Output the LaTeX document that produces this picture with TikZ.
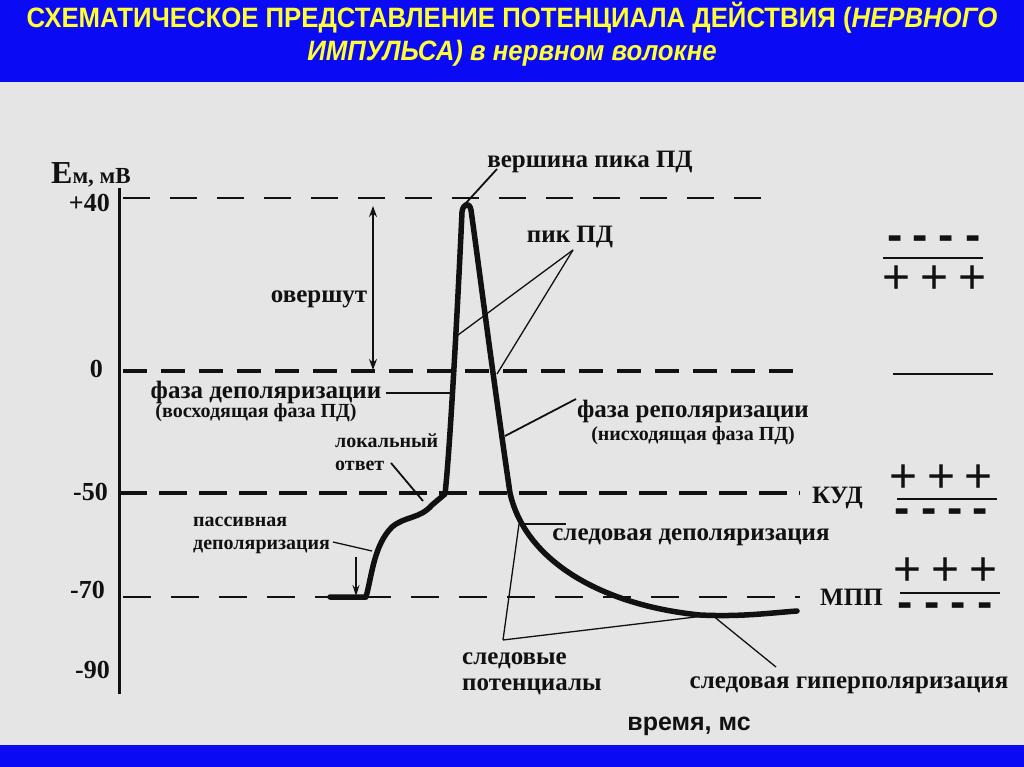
\documentclass[tikz,border=0pt]{standalone}
\usepackage{fontspec}
\setmainfont{Liberation Serif}
\newfontfamily\titlefont[FakeStretch=0.92]{Liberation Sans}
\newfontfamily\sansfont{Liberation Sans}
\usetikzlibrary{arrows.meta}
\definecolor{cBlue}{HTML}{0A0AF5}
\definecolor{cYellow}{HTML}{FFFF33}
\definecolor{cPaper}{HTML}{E5E5E5}
\definecolor{cInk}{HTML}{111111}
\tikzset{
  lbl-title/.style={font=\titlefont\bfseries\fontsize{28}{30}\selectfont,
    text=cYellow,inner sep=0pt,anchor=base},
  lbl-main/.style={font=\bfseries\fontsize{25}{26}\selectfont,inner sep=0pt,
    anchor=base,text=cInk},
  lbl-sub/.style={font=\bfseries\fontsize{20}{22}\selectfont,inner sep=0pt,
    anchor=base,text=cInk},
  lbl-small/.style={font=\bfseries\fontsize{20}{23}\selectfont,inner sep=0pt,
    anchor=base west,text=cInk},
  lbl-tick/.style={font=\bfseries\fontsize{26}{26}\selectfont,inner sep=0pt,
    anchor=base east,text=cInk},
  chg-plus/.style={font=\sansfont\fontsize{48}{48}\selectfont,inner sep=0pt,text=cInk},
  chg-minus/.style={font=\sansfont\bfseries\fontsize{46}{46}\selectfont,inner sep=0pt,text=cInk},
  axis-line/.style={line width=3pt,draw=cInk},
  curve-ap/.style={line width=5.5pt,line join=round,line cap=round,draw=cInk},
  level-thin/.style={line width=2pt,draw=cInk,dash pattern=on 28pt off 20pt},
  level-top/.style={line width=2.6pt,draw=cInk,dash pattern=on 27pt off 20pt},
  level-thick/.style={line width=3.5pt,draw=cInk,dash pattern=on 24pt off 14pt},
  level-kud/.style={line width=4pt,draw=cInk,dash pattern=on 28pt off 12pt},
  leader/.style={line width=1.8pt,draw=cInk},
  leader-thin/.style={line width=1.3pt,draw=cInk},
  arrow-both/.style={{Stealth[length=11pt,width=8pt]}-{Stealth[length=11pt,width=8pt]},
    line width=1.6pt,draw=cInk},
  arrow-down/.style={-{Stealth[length=11pt,width=7pt]},line width=1.4pt,draw=cInk},
  sep-line/.style={line width=2.6pt,draw=cInk},
}
\begin{document}
\begin{tikzpicture}[x=1pt,y=-1pt]
  \useasboundingbox (0,0) rectangle (1024,767);
  % background and bars
  \fill[cPaper] (0,0) rectangle (1024,767);
  \fill[cBlue] (0,0) rectangle (1024,82);
  \fill[cBlue] (0,745) rectangle (1024,767);
  \node[lbl-title] (title) at (512,28)
    {СХЕМАТИЧЕСКОЕ ПРЕДСТАВЛЕНИЕ ПОТЕНЦИАЛА ДЕЙСТВИЯ (\textit{НЕРВНОГО}};
  \node[lbl-title] (title2) at (512,61) {\textit{ИМПУЛЬСА) в нервном волокне}};

  % axis
  \coordinate (ax-top) at (119,188);
  \coordinate (ax-bot) at (119,694);
  \draw[axis-line] (ax-top) -- (ax-bot);
  \node[inner sep=0pt,anchor=base west,text=cInk] (ylabel) at (51,184)
    {\bfseries\fontsize{32}{32}\selectfont E\fontsize{23}{23}\selectfont м, мВ};
  \node[lbl-tick] (t40) at (110,212) {+40};
  \node[lbl-tick] (t0)  at (103,377) {0};
  \node[lbl-tick] (t50) at (108,500) {-50};
  \node[lbl-tick] (t70) at (105,598) {-70};
  \node[lbl-tick] (t90) at (110,678) {-90};

  % levels
  \draw[level-top]   (123,198) -- (778,198);
  \draw[level-thick] (123,371) -- (800,371);
  \draw[level-kud]   (119,493) -- (800,493);
  \draw[level-thin]  (123,597) -- (800,597);

  % action potential
  \coordinate (apex) at (466,203);
  \draw[curve-ap] (330,597) -- (366,597)
    .. controls (372,575) and (374,545) .. (392,527)
    .. controls (405,516) and (420,519) .. (432,505)
    -- (445,494)
    .. controls (450,450) and (458,300) .. (462,212)
    .. controls (463,204) and (469,201) .. (471,210)
    .. controls (478,260) and (492,370) .. (510,493)
    .. controls (525,560) and (600,605) .. (700,615)
    .. controls (740,617) and (770,613) .. (797,611);

  % labels and leaders
  \node[lbl-main] (vershina) at (590,168) {вершина пика ПД};
  \coordinate (vershina-foot) at (497,169);
  \draw[leader] (vershina-foot) -- (apex);

  \node[lbl-main] (pik) at (570,243) {пик ПД};
  \coordinate (pik-foot) at (573,250);
  \coordinate (pik-left) at (458,335);
  \coordinate (pik-right) at (497,374);
  \draw[leader-thin] (pik-foot) -- (pik-left);
  \draw[leader-thin] (pik-foot) -- (pik-right);

  \node[lbl-main] (overshoot) at (319,302) {овершут};
  \coordinate (os-top) at (373,206);
  \coordinate (os-bot) at (373,370);
  \draw[arrow-both] (os-top) -- (os-bot);

  \node[lbl-main] (depol) at (266,398) {фаза деполяризации};
  \node[lbl-sub] (depol-sub) at (256,417) {(восходящая фаза ПД)};
  \coordinate (depol-start) at (386,393);
  \coordinate (depol-end) at (452,393);
  \draw[leader] (depol-start) -- (depol-end);

  \node[lbl-small,align=left] (local) at (335,470) {локальный\\ответ};
  \coordinate (local-foot) at (391,463);
  \coordinate (local-end) at (423,501);
  \draw[leader] (local-foot) -- (local-end);

  \node[lbl-small,align=left] (passive) at (193,549) {пассивная\\деполяризация};
  \coordinate (passive-foot) at (333,542);
  \coordinate (passive-end) at (372,551);
  \draw[leader-thin] (passive-foot) -- (passive-end);
  \coordinate (stim-top) at (356,557);
  \coordinate (stim-bot) at (356,596);
  \draw[arrow-down] (stim-top) -- (stim-bot);

  \node[lbl-main] (repol) at (693,417) {фаза реполяризации};
  \node[lbl-sub] (repol-sub) at (693,440) {(нисходящая фаза ПД)};
  \coordinate (repol-foot) at (576,399);
  \coordinate (repol-end) at (505,436);
  \draw[leader] (repol-foot) -- (repol-end);

  \node[lbl-main,anchor=base west] (kud) at (812,503) {КУД};
  \node[lbl-main,anchor=base west] (mpp) at (820,605) {МПП};

  \node[lbl-main] (tdepol) at (691,540) {следовая деполяризация};
  \coordinate (tdepol-start) at (519,524);
  \coordinate (tdepol-end) at (566,524);
  \draw[leader-thin] (tdepol-start) -- (tdepol-end);

  \node[lbl-main,anchor=base west,align=left] (trace) at (462,690) {следовые\\потенциалы};
  \coordinate (trace-top) at (503,640);
  \coordinate (thyper-pt) at (712,615);
  \draw[leader-thin] (trace-top) -- (tdepol-start);
  \draw[leader-thin] (trace-top) -- (thyper-pt);

  \node[lbl-main] (thyper) at (849,688) {следовая гиперполяризация};
  \coordinate (thyper-foot) at (776,667);
  \draw[leader-thin] (thyper-foot) -- (thyper-pt);

  \node[inner sep=0pt,anchor=base,text=cInk,font=\sansfont\bfseries\fontsize{25}{26}\selectfont]
    (time) at (689,730) {время, мс};

  % membrane charges
  \foreach \x in {895,920,946,973} \node[chg-minus] (m1-\x) at (\x,243) {-};
  \coordinate (s1a) at (883,258); \coordinate (s1b) at (983,258);
  \draw[sep-line] (s1a) -- (s1b);
  \foreach \x in {897,934,972} \node[chg-plus] (p1-\x) at (\x,280) {+};

  \coordinate (s2a) at (893,374); \coordinate (s2b) at (993,374);
  \draw[sep-line] (s2a) -- (s2b);

  \foreach \x in {904,942,978} \node[chg-plus] (p3-\x) at (\x,479) {+};
  \coordinate (s3a) at (897,499); \coordinate (s3b) at (997,499);
  \draw[sep-line] (s3a) -- (s3b);
  \foreach \x in {902,929,955,980} \node[chg-minus] (m3-\x) at (\x,516) {-};

  \foreach \x in {908,946,983} \node[chg-plus] (p4-\x) at (\x,572) {+};
  \coordinate (s4a) at (900,593); \coordinate (s4b) at (1000,593);
  \draw[sep-line] (s4a) -- (s4b);
  \foreach \x in {905,932,958,985} \node[chg-minus] (m4-\x) at (\x,610) {-};
\end{tikzpicture}
\end{document}
